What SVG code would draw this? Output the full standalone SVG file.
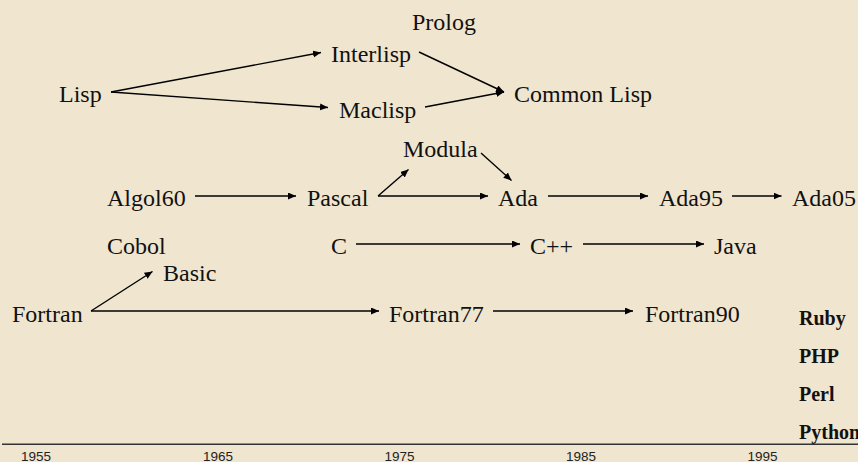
<svg xmlns="http://www.w3.org/2000/svg" width="858" height="462" viewBox="0 0 858 462">
<defs>
<style>
.n{font-family:"Liberation Serif","Times New Roman",serif;font-size:24px;fill:#111}
.b{font-family:"Liberation Serif","Times New Roman",serif;font-size:20px;font-weight:bold;fill:#111}
.y{font-family:"Liberation Sans",Arial,sans-serif;font-size:13.5px;fill:#222;text-anchor:middle}
.e{stroke:#000;stroke-width:1.4;fill:none;marker-end:url(#ah)}
</style>
<marker id="ah" markerUnits="userSpaceOnUse" markerWidth="9" markerHeight="8" refX="8" refY="3.5" orient="auto">
<path d="M0,0 L8,3.5 L0,7 z" fill="#000"/>
</marker>
</defs>
<rect width="858" height="462" fill="#F0E5CF"/>
<g id="connectors">
<line class="e" x1="111" y1="92" x2="321" y2="52.5"/>
<line class="e" x1="111" y1="92" x2="328" y2="107.5"/>
<line class="e" x1="419" y1="52" x2="504" y2="92"/>
<line class="e" x1="425" y1="107" x2="504" y2="92"/>
<line class="e" x1="195" y1="196" x2="296" y2="196"/>
<line class="e" x1="378" y1="196" x2="408.5" y2="169.5"/>
<line class="e" x1="378" y1="196" x2="488" y2="196"/>
<line class="e" x1="481" y1="153" x2="511.5" y2="180.5"/>
<line class="e" x1="548" y1="196" x2="648" y2="196"/>
<line class="e" x1="732" y1="196" x2="781.5" y2="196"/>
<line class="e" x1="356" y1="244" x2="520" y2="244"/>
<line class="e" x1="583" y1="244" x2="704" y2="244"/>
<line class="e" x1="91" y1="311" x2="152.5" y2="271.5"/>
<line class="e" x1="91" y1="311" x2="379" y2="311"/>
<line class="e" x1="493" y1="311" x2="633" y2="311"/>
</g>
<g id="n-prolog"><text class="n" x="412" y="30">Prolog</text></g>
<g id="n-interlisp"><text class="n" x="331" y="62">Interlisp</text></g>
<g id="n-lisp"><text class="n" x="59" y="102">Lisp</text></g>
<g id="n-maclisp"><text class="n" x="339" y="118">Maclisp</text></g>
<g id="n-commonlisp"><text class="n" x="514" y="102">Common Lisp</text></g>
<g id="n-modula"><text class="n" x="403" y="157">Modula</text></g>
<g id="n-algol60"><text class="n" x="107" y="206">Algol60</text></g>
<g id="n-pascal"><text class="n" x="307" y="206">Pascal</text></g>
<g id="n-ada"><text class="n" x="498" y="206">Ada</text></g>
<g id="n-ada95"><text class="n" x="659" y="206">Ada95</text></g>
<g id="n-ada05"><text class="n" x="792" y="206">Ada05</text></g>
<g id="n-cobol"><text class="n" x="107" y="254">Cobol</text></g>
<g id="n-c"><text class="n" x="331" y="254">C</text></g>
<g id="n-cpp"><text class="n" x="530" y="254">C++</text></g>
<g id="n-java"><text class="n" x="714" y="254">Java</text></g>
<g id="n-basic"><text class="n" x="163" y="281">Basic</text></g>
<g id="n-fortran"><text class="n" x="12" y="322">Fortran</text></g>
<g id="n-fortran77"><text class="n" x="389" y="322">Fortran77</text></g>
<g id="n-fortran90"><text class="n" x="645" y="322">Fortran90</text></g>
<g id="n-ruby"><text class="b" x="799" y="325">Ruby</text></g>
<g id="n-php"><text class="b" x="799" y="363">PHP</text></g>
<g id="n-perl"><text class="b" x="799" y="401">Perl</text></g>
<g id="n-python"><text class="b" x="799" y="439">Python</text></g>
<g id="axis">
<line x1="2" y1="444.3" x2="858" y2="444.3" stroke="#333" stroke-width="1.5"/>
<text class="y" x="36" y="461">1955</text>
<text class="y" x="218" y="461">1965</text>
<text class="y" x="399.5" y="461">1975</text>
<text class="y" x="581" y="461">1985</text>
<text class="y" x="762.5" y="461">1995</text>
</g>
</svg>
